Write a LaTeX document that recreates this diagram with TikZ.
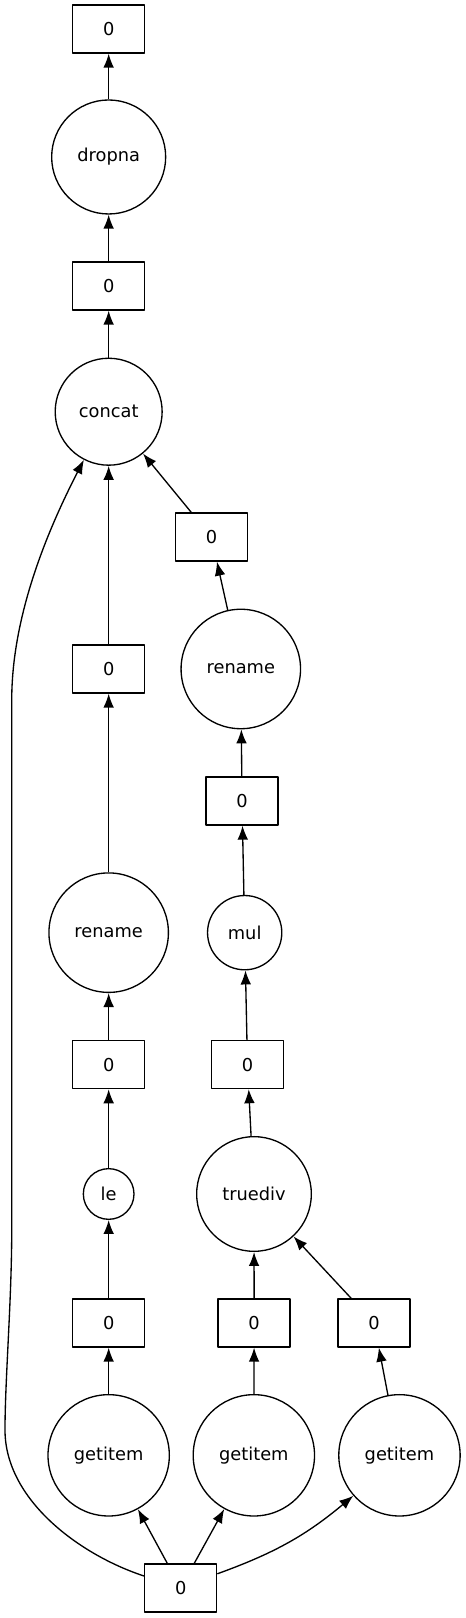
\documentclass[tikz,border=0pt]{standalone}
\usepackage{fontspec}
\setmainfont{DejaVu Sans}
\usetikzlibrary{arrows.meta}
\tikzset{
  datbox/.style={draw,rectangle,line width=1bp,minimum width=54bp,minimum height=36bp,inner sep=0pt},
  opnode/.style={draw,circle,line width=1bp,inner sep=0pt},
}
\begin{document}
\begin{tikzpicture}[>={Latex[length=10.5bp,width=8bp]},line join=bevel,font=\fontsize{13.4}{16}\selectfont]
\useasboundingbox (0bp,0bp) rectangle (349.5bp,1213.5bp);
%%
\node (node_out) at (81.5bp,1191.75bp) [datbox] {0};
  \node (node_dropna) at (81.5bp,1095.75bp) [opnode,minimum size=85.5bp] {dropna};
  \node (node_cat0) at (81.5bp,999.0bp) [datbox] {0};
  \node (node_concat) at (81.5bp,904.7bp) [opnode,minimum size=80.2bp] {concat};
  \node (node_ren1_0) at (158.6bp,810.75bp) [datbox] {0};
  \node (node_rename1) at (180.6bp,711.75bp) [opnode,minimum size=89.6bp] {rename};
  \node (node_mul_0) at (181.5bp,612.75bp) [datbox] {0};
  \node (node_mul) at (183.5bp,514.0bp) [opnode,minimum size=55.7bp] {mul};
  \node (node_div_0) at (185.6bp,415.05bp) [datbox] {0};
  \node (node_truediv) at (190.5bp,318.0bp) [opnode,minimum size=86bp] {truediv};
  \node (node_ren0_0) at (81.5bp,711.75bp) [datbox] {0};
  \node (node_rename0) at (81.5bp,514.0bp) [opnode,minimum size=89.6bp] {rename};
  \node (node_le_0) at (81.5bp,415.05bp) [datbox] {0};
  \node (node_le) at (81.5bp,318.0bp) [opnode,minimum size=38bp] {le};
  \node (node_get0_0) at (81.5bp,221.25bp) [datbox] {0};
  \node (node_get1_0) at (190.6bp,221.25bp) [datbox] {0};
  \node (node_get2_0) at (280.6bp,221.25bp) [datbox] {0};
  \node (node_getitem0) at (81.5bp,122.0bp) [opnode,minimum size=91bp] {getitem};
  \node (node_getitem1) at (190.4bp,122.0bp) [opnode,minimum size=91bp] {getitem};
  \node (node_getitem2) at (299.6bp,122.0bp) [opnode,minimum size=91bp] {getitem};
  \node (node_in) at (135.5bp,22.5bp) [datbox] {0};
  \draw [black,line width=1bp,->] (node_dropna) -- (node_out);
  \draw [black,line width=1bp,->] (node_cat0) -- (node_dropna);
  \draw [black,line width=1bp,->] (node_concat) -- (node_cat0);
  \draw [black,line width=1bp,->] (node_ren0_0) -- (node_concat);
  \draw [black,line width=1bp,->] (node_ren1_0) -- (node_concat);
  \draw [black,line width=1bp,->] (node_rename1) -- (node_ren1_0);
  \draw [black,line width=1bp,->] (node_mul_0) -- (node_rename1);
  \draw [black,line width=1bp,->] (node_mul) -- (node_mul_0);
  \draw [black,line width=1bp,->] (node_div_0) -- (node_mul);
  \draw [black,line width=1bp,->] (node_truediv) -- (node_div_0);
  \draw [black,line width=1bp,->] (node_get1_0) -- (node_truediv);
  \draw [black,line width=1bp,->] (node_get2_0) -- (node_truediv);
  \draw [black,line width=1bp,->] (node_rename0) -- (node_ren0_0);
  \draw [black,line width=1bp,->] (node_le_0) -- (node_rename0);
  \draw [black,line width=1bp,->] (node_le) -- (node_le_0);
  \draw [black,line width=1bp,->] (node_get0_0) -- (node_le);
  \draw [black,line width=1bp,->] (node_getitem0) -- (node_get0_0);
  \draw [black,line width=1bp,->] (node_getitem1) -- (node_get1_0);
  \draw [black,line width=1bp,->] (node_getitem2) -- (node_get2_0);
  \draw [black,line width=1bp,->] (node_in) -- (node_getitem0);
  \draw [black,line width=1bp,->] (node_in) -- (node_getitem1);
  \draw [black,line width=1bp,->] (node_in) to[bend right=10] (node_getitem2);
  \draw [black,line width=1bp,->] (node_in) ..controls (60.0bp,47.25bp) and (3.75bp,88.5bp)  .. (3.75bp,141.0bp)
    ..controls (3.75bp,178.5bp) and (8.8bp,238.5bp)  .. (8.8bp,291.0bp) -- (8.8bp,688.5bp)
    ..controls (8.8bp,744.75bp) and (30.0bp,804.75bp)  .. (node_concat);
%
\end{tikzpicture}
\end{document}
